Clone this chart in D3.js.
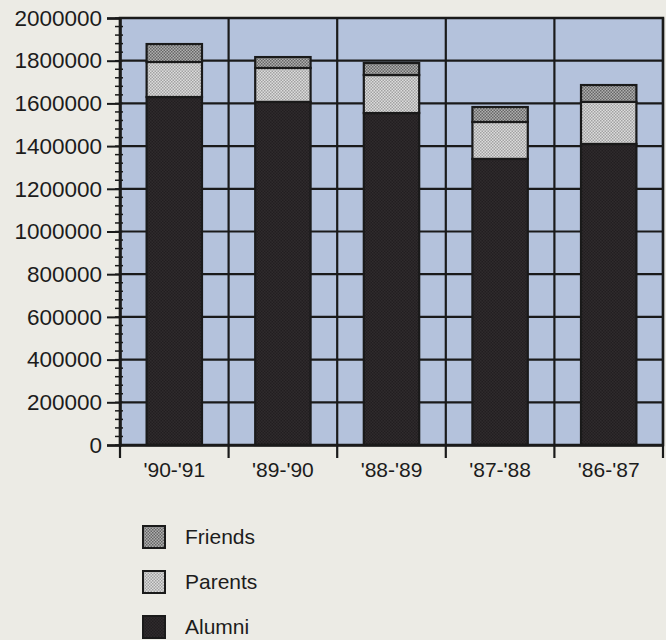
<!DOCTYPE html>
<html>
<head>
<meta charset="utf-8">
<script src="https://cdn.jsdelivr.net/npm/d3@7"></script>
<style>
  html, body { margin: 0; padding: 0; background: #ecebe5; }
  svg { display: block; }
  text { font-family: "Liberation Sans", Arial, Helvetica, sans-serif; fill: #1c1c1c; }
</style>
</head>
<body>
<div id="chart"></div>
<script>
// ------------------------------------------------------------
// Data
// ------------------------------------------------------------
const years = ["'90-'91", "'89-'90", "'88-'89", "'87-'88", "'86-'87"];
const alumni  = [1630000, 1607000, 1555000, 1340000, 1410000];
const parents = [164000, 159000, 178000, 173000, 197000];
const friends = [84000, 51000, 56000, 70000, 79000];
const seriesNames = ["Alumni", "Parents", "Friends"];
const yTicks = [0, 200000, 400000, 600000, 800000, 1000000, 1200000, 1400000, 1600000, 1800000, 2000000];

// ------------------------------------------------------------
// Setup
// ------------------------------------------------------------
const width = 666, height = 640;
const plotLeft = 120, plotRight = 663, plotTop = 18, plotBottom = 445;

const svg = d3.select("#chart")
    .append("svg")
    .attr("width", width)
    .attr("height", height);

const defs = svg.append("defs");

// dotted screen textures, like the print
function dotPattern(id, base, dot, size) {
    const p = defs.append("pattern")
        .attr("id", id)
        .attr("patternUnits", "userSpaceOnUse")
        .attr("width", size)
        .attr("height", size);
    p.append("rect").attr("width", size).attr("height", size).attr("fill", base);
    p.append("rect").attr("width", size / 2).attr("height", size / 2).attr("fill", dot);
    p.append("rect").attr("x", size / 2).attr("y", size / 2)
        .attr("width", size / 2).attr("height", size / 2).attr("fill", dot);
}
dotPattern("pat-alumni", "#221e20", "#2f2b2d", 3);
dotPattern("pat-parents", "#dcdcdc", "#a2a2a2", 3);
dotPattern("pat-friends", "#b0b0b0", "#666666", 3);

const fills = { Alumni: "url(#pat-alumni)", Parents: "url(#pat-parents)", Friends: "url(#pat-friends)" };

const x = d3.scaleBand()
    .domain(years)
    .range([plotLeft, plotRight])
    .paddingInner(0.49)
    .paddingOuter(0.245);

const y = d3.scaleLinear()
    .domain([0, 2000000])
    .range([plotBottom, plotTop]);

// stacked data
const table = years.map((yr, i) => ({ year: yr, Alumni: alumni[i], Parents: parents[i], Friends: friends[i] }));
const stacked = d3.stack().keys(seriesNames)(table);

// ------------------------------------------------------------
// Plot background and grid
// ------------------------------------------------------------
svg.append("rect")
    .attr("x", plotLeft)
    .attr("y", plotTop)
    .attr("width", plotRight - plotLeft)
    .attr("height", plotBottom - plotTop)
    .attr("fill", "#b4c2dc");

const gridColor = "#1a1a1a";

// horizontal grid
svg.append("g")
    .selectAll("line")
    .data(yTicks)
    .enter()
    .append("line")
    .attr("x1", plotLeft)
    .attr("x2", plotRight)
    .attr("y1", d => y(d))
    .attr("y2", d => y(d))
    .attr("stroke", gridColor)
    .attr("stroke-width", 2.2);

// vertical grid at band boundaries
const bounds = years.map(d => x(d) - x.step() * x.paddingInner() / 2).concat([plotRight]);
svg.append("g")
    .selectAll("line")
    .data(bounds)
    .enter()
    .append("line")
    .attr("x1", d => d)
    .attr("x2", d => d)
    .attr("y1", plotTop)
    .attr("y2", plotBottom + 13)
    .attr("stroke", gridColor)
    .attr("stroke-width", 2.2);

// ------------------------------------------------------------
// Bars
// ------------------------------------------------------------
svg.append("g")
    .selectAll("g")
    .data(stacked)
    .enter()
    .append("g")
    .attr("fill", d => fills[d.key])
    .selectAll("rect")
    .data(d => d)
    .enter()
    .append("rect")
    .attr("x", d => x(d.data.year))
    .attr("y", d => y(d[1]))
    .attr("width", x.bandwidth())
    .attr("height", d => y(d[0]) - y(d[1]))
    .attr("stroke", "#1a1a1a")
    .attr("stroke-width", 2.2);

// ------------------------------------------------------------
// Axes
// ------------------------------------------------------------
// minor ticks on y axis
svg.append("g")
    .selectAll("line")
    .data(d3.range(0, 2000001, 40000))
    .enter()
    .append("line")
    .attr("x1", plotLeft - 5)
    .attr("x2", plotLeft + 3)
    .attr("y1", d => y(d))
    .attr("y2", d => y(d))
    .attr("stroke", gridColor)
    .attr("stroke-width", 1.5);

const yAxis = svg.append("g")
    .attr("transform", `translate(${plotLeft},0)`)
    .call(d3.axisLeft(y).tickValues(yTicks).tickFormat(d3.format("d")).tickSize(13).tickPadding(5));
yAxis.select(".domain").attr("stroke", gridColor).attr("stroke-width", 2.5);
yAxis.selectAll(".tick line").attr("stroke", gridColor).attr("stroke-width", 2);
yAxis.selectAll("text").attr("font-size", "22.5px").attr("fill", "#1c1c1c");

const xAxis = svg.append("g")
    .attr("transform", `translate(0,${plotBottom})`)
    .call(d3.axisBottom(x).tickSize(0).tickPadding(17));
xAxis.select(".domain").attr("stroke", gridColor).attr("stroke-width", 2.5);
xAxis.selectAll("text").attr("font-size", "21px").attr("fill", "#1c1c1c");

// plot frame top / right
svg.append("rect")
    .attr("x", plotLeft)
    .attr("y", plotTop)
    .attr("width", plotRight - plotLeft)
    .attr("height", plotBottom - plotTop)
    .attr("fill", "none")
    .attr("stroke", gridColor)
    .attr("stroke-width", 2.5);

// ------------------------------------------------------------
// Legend
// ------------------------------------------------------------
const legendItems = ["Friends", "Parents", "Alumni"];
const legend = svg.append("g")
    .selectAll("g")
    .data(legendItems)
    .enter()
    .append("g")
    .attr("transform", (d, i) => `translate(143,${526 + i * 45})`);

legend.append("rect")
    .attr("width", 22)
    .attr("height", 22)
    .attr("fill", d => fills[d])
    .attr("stroke", "#1a1a1a")
    .attr("stroke-width", 2);

legend.append("text")
    .text(d => d)
    .attr("x", 42)
    .attr("y", 18)
    .attr("font-size", "21px");
</script>
</body>
</html>
